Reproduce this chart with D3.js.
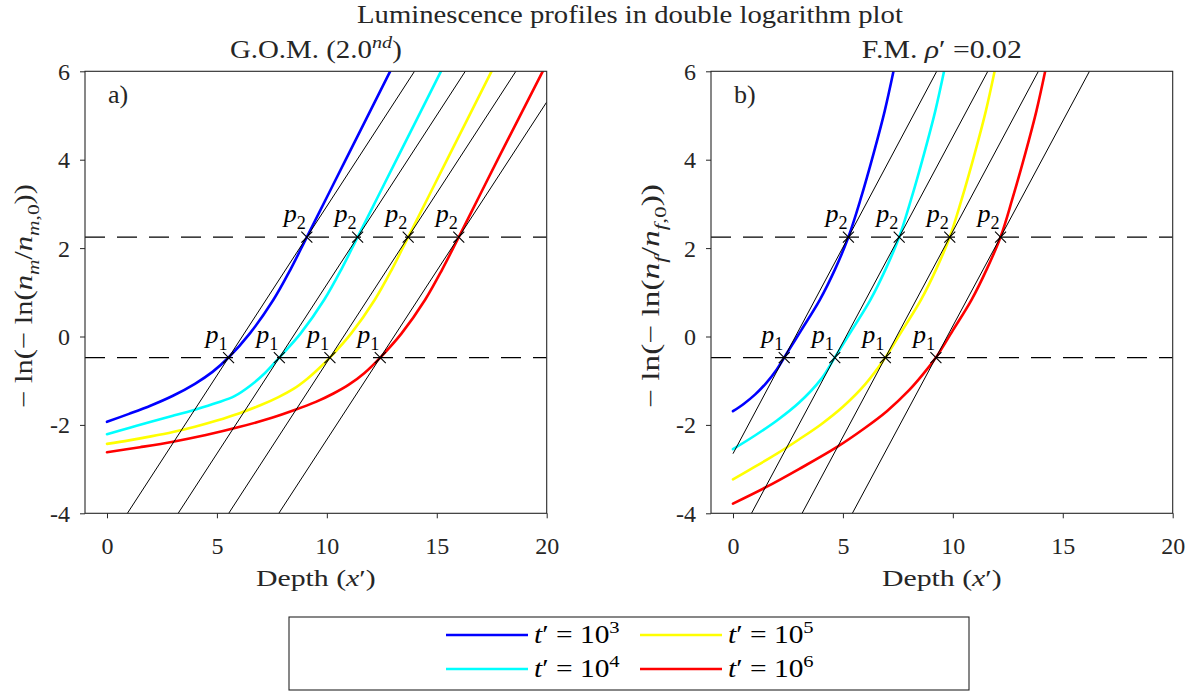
<!DOCTYPE html>
<html>
<head>
<meta charset="utf-8">
<script src="https://cdn.jsdelivr.net/npm/d3@7"></script>
<style>
  body { margin: 0; background: #fff; }
  svg { display: block; }
</style>
</head>
<body>
<svg id="chart" width="1195" height="694"></svg>
<script>
// ---- axis ticks ----
const depthTicks = [0, 5, 10, 15, 20];
const valueTicks = [6, 4, 2, 0, -2, -4];

// ---- series ----
const timeExponents = [3, 4, 5, 6];
const seriesColors = ["#0000ff", "#00ffff", "#ffff00", "#ff0000"];

// reference levels for p1 and p2
const levelP1 = -0.476;
const levelP2 = 2.25;

// G.O.M. profiles [depth, -ln(-ln(n/n0))]
const gomT3 = [[0,-1.93],[1,-1.75],[2,-1.56],[3,-1.34],[4,-1.07],[4.8,-0.80],[5.53,-0.476],[6.5,0.07],[7.57,0.83],[8.35,1.52],[9.09,2.25],[10.0,3.15],[10.9,4.04],[12.88,6.0]];
const gomT4 = [[0,-2.21],[1,-2.07],[2,-1.93],[3,-1.795],[4,-1.655],[5,-1.50],[5.8,-1.35],[6.5,-1.12],[7.2,-0.82],[7.84,-0.476],[8.81,0.07],[9.88,0.83],[10.66,1.52],[11.40,2.25],[12.31,3.15],[13.21,4.04],[15.19,6.0]];
const gomT5 = [[0,-2.43],[1,-2.35],[2,-2.26],[3,-2.16],[4,-2.04],[5,-1.90],[6,-1.74],[7,-1.55],[7.8,-1.37],[8.5,-1.18],[9.1,-0.96],[9.6,-0.74],[10.14,-0.476],[11.11,0.07],[12.18,0.83],[12.96,1.52],[13.70,2.25],[14.61,3.15],[15.51,4.04],[17.49,6.0]];
const gomT6 = [[0,-2.62],[1.5,-2.505],[3,-2.38],[4.5,-2.23],[6,-2.05],[7.5,-1.84],[8.5,-1.67],[9.5,-1.48],[10.3,-1.29],[11,-1.09],[11.7,-0.83],[12.43,-0.476],[13.4,0.07],[14.47,0.83],[15.25,1.52],[16.0,2.25],[16.91,3.15],[17.81,4.04],[19.82,6.0]];

// F.M. profiles
const fmT3 = [[0,-1.69],[0.5,-1.52],[1,-1.315],[1.5,-1.06],[2,-0.74],[2.33,-0.476],[3.1,0.14],[3.95,0.83],[4.65,1.53],[5.25,2.25],[5.8,3.1],[6.4,4.15],[6.9,5.1],[7.3,6.0]];
const fmT4 = [[0,-2.55],[1,-2.24],[2,-1.90],[3,-1.50],[4,-0.97],[4.63,-0.476],[5.4,0.14],[6.25,0.83],[6.95,1.53],[7.56,2.25],[8.1,3.1],[8.7,4.15],[9.2,5.1],[9.6,6.0]];
const fmT5 = [[0,-3.23],[1,-2.945],[2,-2.65],[3,-2.33],[4,-1.99],[5,-1.59],[6,-1.09],[6.93,-0.476],[7.7,0.14],[8.55,0.83],[9.25,1.53],[9.86,2.25],[10.4,3.1],[11.0,4.15],[11.5,5.1],[11.9,6.0]];
const fmT6 = [[0,-3.78],[1.5,-3.41],[3,-3.0],[4.7,-2.51],[6,-2.07],[7,-1.69],[8,-1.22],[8.6,-0.88],[9.23,-0.476],[10.0,0.14],[10.85,0.83],[11.55,1.53],[12.17,2.25],[12.7,3.1],[13.3,4.15],[13.8,5.1],[14.2,6.0]];

// crossing depths of each profile with the p1 / p2 levels
const gomP1x = [5.53, 7.84, 10.14, 12.43];
const gomP2x = [9.09, 11.40, 13.70, 16.00];
const fmP1x = [2.33, 4.63, 6.93, 9.23];
const fmP2x = [5.25, 7.56, 9.86, 12.17];

const xDomain = [-1, 20];
const yDomain = [-4, 6];
const lineRange = [0, 20];

const FONT = "'Liberation Serif', 'Times New Roman', serif";
const ink = "#262626";
const svg = d3.select("#chart").style("font-family", FONT);

// writes mixed roman / italic / sub / superscript runs into a text element
function rich(sel, parts, size) {
  let shift = 0;
  parts.forEach(p => {
    const target = p.sub ? size * 0.28 : p.sup ? -size * 0.42 : 0;
    const ts = sel.append("tspan").text(p.t);
    if (target - shift !== 0) ts.attr("dy", target - shift);
    shift = target;
    if (p.it) ts.style("font-style", "italic");
    if (p.sub || p.sup) ts.attr("font-size", size * 0.7);
  });
  return sel;
}

// text placed by a transform, so it can be stretched along its own direction
function label(parent, x, y, size, anchor, rotate) {
  return parent.append("text")
    .attr("transform", `translate(${x},${y})` + (rotate ? ` rotate(${rotate})` : ""))
    .attr("text-anchor", anchor).attr("font-size", size)
    .style("font-family", FONT).style("fill", ink);
}
function fitWidth(sel, width) {
  const w = sel.node().getBBox().width;
  sel.attr("transform", sel.attr("transform") + ` scale(${width / w},1)`);
  return sel;
}

const panels = [
  { id: "a", left: 85, right: 546.7, tag: "a)",
    title: [{t: "G.O.M. (2.0"}, {t: "nd", it: true, sup: true}, {t: ")"}], titleW: 172,
    ylab: "m", ylabX: 32,
    curves: [gomT3, gomT4, gomT5, gomT6], p1x: gomP1x, p2x: gomP2x },
  { id: "b", left: 711, right: 1172.7, tag: "b)",
    title: [{t: "F.M. "}, {t: "ρ", it: true}, {t: "′ =0.02"}], titleW: 160,
    ylab: "f", ylabX: 659,
    curves: [fmT3, fmT4, fmT5, fmT6], p1x: fmP1x, p2x: fmP2x }
];

const plotTop = 71.3, plotBottom = 513.3;

panels.forEach(P => {
  const x = d3.scaleLinear().domain(xDomain).range([P.left, P.right]);
  const y = d3.scaleLinear().domain(yDomain).range([plotBottom, plotTop]);
  const g = svg.append("g");

  g.append("clipPath").attr("id", "clip-" + P.id)
    .append("rect").attr("x", P.left).attr("y", plotTop)
    .attr("width", P.right - P.left).attr("height", plotBottom - plotTop);

  const plot = g.append("g").attr("clip-path", `url(#clip-${P.id})`);

  // profiles
  const line = d3.line().x(d => x(d[0])).y(d => y(d[1]))
    .curve(d3.curveCatmullRom.alpha(0.5));
  P.curves.forEach((c, i) => {
    plot.append("path").datum(c).attr("d", line)
      .attr("fill", "none").attr("stroke", seriesColors[i])
      .attr("stroke-width", 2.6).attr("stroke-linecap", "round");
  });

  // straight lines through p1 and p2
  P.p1x.forEach((x1, i) => {
    const x2 = P.p2x[i];
    const slope = (levelP2 - levelP1) / (x2 - x1);
    const pts = lineRange.map(v => [v, levelP1 + slope * (v - x1)]);
    plot.append("path").datum(pts)
      .attr("d", d3.line().x(d => x(d[0])).y(d => y(d[1])))
      .attr("fill", "none").attr("stroke", "#000").attr("stroke-width", 1);
  });

  // dashed reference levels
  [levelP1, levelP2].forEach(v => {
    plot.append("line")
      .attr("x1", x(xDomain[0])).attr("x2", x(xDomain[1]))
      .attr("y1", y(v)).attr("y2", y(v))
      .attr("stroke", "#000").attr("stroke-width", 1.2)
      .attr("stroke-dasharray", "20,12");
  });

  // crossing markers and labels
  const marks = [];
  P.p1x.forEach(v => marks.push({ xv: v, yv: levelP1, k: "1" }));
  P.p2x.forEach(v => marks.push({ xv: v, yv: levelP2, k: "2" }));
  marks.forEach(m => {
    const cx = x(m.xv), cy = y(m.yv);
    g.append("path")
      .attr("d", `M${cx - 5.5},${cy - 5.5}L${cx + 5.5},${cy + 5.5}M${cx - 5.5},${cy + 5.5}L${cx + 5.5},${cy - 5.5}`)
      .attr("stroke", "#000").attr("stroke-width", 1.1);
    const t = label(g, cx - 23, cy - 15, 26, "start").style("fill", "#000");
    rich(t, [{t: "p", it: true}, {t: m.k, sub: true}], 26);
  });

  // axes
  const xa = g.append("g").attr("transform", `translate(0,${plotBottom})`)
    .call(d3.axisBottom(x).tickValues(depthTicks).tickSize(5).tickSizeOuter(0).tickFormat(d => String(d)));
  const ya = g.append("g").attr("transform", `translate(${P.left},0)`)
    .call(d3.axisLeft(y).tickValues(valueTicks).tickSize(5).tickSizeOuter(0).tickFormat(d => String(d)));
  [xa, ya].forEach(a => {
    a.attr("font-family", null).attr("font-size", null);
    a.select(".domain").remove();
    a.selectAll(".tick line").attr("stroke", ink).attr("stroke-width", 1);
    a.selectAll(".tick text").attr("font-size", 24)
      .style("font-family", FONT).style("fill", ink);
  });
  xa.selectAll(".tick text").attr("y", 24).attr("dy", "0.71em");
  ya.selectAll(".tick text").attr("x", -15).attr("dy", "0.33em");

  // box
  g.append("rect").attr("x", P.left).attr("y", plotTop)
    .attr("width", P.right - P.left).attr("height", plotBottom - plotTop)
    .attr("fill", "none").attr("stroke", ink).attr("stroke-width", 1.1);

  // panel tag
  label(g, x(0) + 1, 103, 26, "start").text(P.tag);

  // titles and axis labels
  const cx = (P.left + P.right) / 2;
  fitWidth(rich(label(g, cx, 58, 25, "middle"), P.title, 25), P.titleW);
  fitWidth(rich(label(g, cx, 586, 24, "middle"),
    [{t: "Depth ("}, {t: "x", it: true}, {t: "′)"}], 24), 120);

  const s = P.ylab;
  fitWidth(rich(label(g, P.ylabX, 296, 25, "middle", -90),
    [{t: "− ln(− ln("}, {t: "n", it: true}, {t: s, it: true, sub: true},
     {t: "/"}, {t: "n", it: true}, {t: s, it: true, sub: true}, {t: ",0", sub: true},
     {t: "))"}], 25), 224);
});

// figure title
fitWidth(label(svg, 630, 22.5, 25, "middle")
  .text("Luminescence profiles in double logarithm plot"), 546);

// legend
const legend = svg.append("g");
legend.append("rect").attr("x", 289).attr("y", 617).attr("width", 680).attr("height", 73)
  .attr("fill", "#fff").attr("stroke", ink).attr("stroke-width", 1.1);
const legendCols = [446, 640];
const legendRows = [635, 669];
timeExponents.forEach((e, i) => {
  const col = Math.floor(i / 2), row = i % 2;
  const lx = legendCols[col], ly = legendRows[row];
  legend.append("line").attr("x1", lx).attr("x2", lx + 82).attr("y1", ly).attr("y2", ly)
    .attr("stroke", seriesColors[i]).attr("stroke-width", 2.6);
  fitWidth(rich(label(legend, lx + 88, ly + 8, 25, "start").style("fill", "#000"),
    [{t: "t", it: true}, {t: "′ = 10"}, {t: String(e), sup: true}], 25), 86);
});
</script>
</body>
</html>
